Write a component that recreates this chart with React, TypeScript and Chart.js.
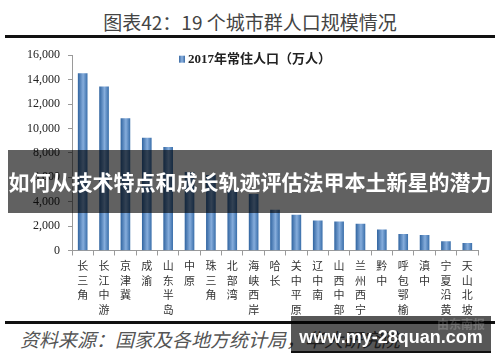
import React, { useEffect, useRef } from 'react';
import { Chart, registerables } from 'chart.js';

Chart.register(...registerables);

const titleText = '图表42：19 个城市群人口规模情况';
const bannerText = '如何从技术特点和成长轨迹评估法甲本土新星的潜力';
const sourceText = '资料来源：国家及各地方统计局，华大研究院';
const watermarkText = 'www.my-28quan.com';
const logoText = '由东南报';
const seriesLabel = '2017年常住人口（万人）';

const categories = [
  '长三角', '长江中游', '京津冀', '成渝', '山东半岛', '中原', '珠三角', '北部湾', '海峡西岸', '哈长',
  '关中平原', '辽中南', '山西中部', '兰州西宁', '黔中', '呼包鄂榆', '滇中', '宁夏沿黄', '天山北坡',
];
const population = [
  14500, 13400, 10800, 9200, 8450, 6400, 6150, 4900, 4600, 3300,
  2900, 2420, 2340, 2160, 1700, 1320, 1240, 730, 590,
];
const yMin = 0;
const yMax = 16000;
const yStep = 2000;

const CJK = '"Noto Sans CJK SC", sans-serif';
const SERIF = '"Liberation Serif", "Noto Sans CJK SC", serif';

const legendPlugin = {
  id: 'customLegend',
  afterDraw(chart: any) {
    const { ctx, chartArea } = chart;
    const ds = chart.data.datasets[0];
    const x = chartArea.left + 107;
    const y = chartArea.top + 4;
    ctx.save();
    const g = ctx.createLinearGradient(x, 0, x + 6, 0);
    g.addColorStop(0, '#3a6aa3');
    g.addColorStop(0.5, '#8db3e2');
    g.addColorStop(1, '#3a6aa3');
    ctx.fillStyle = g;
    ctx.fillRect(x, y - 3.5, 6, 7);
    ctx.font = 'bold 13px ' + SERIF;
    ctx.fillStyle = '#222';
    ctx.textBaseline = 'middle';
    ctx.textAlign = 'left';
    ctx.fillText(ds.label, x + 9, y + 0.5);
    ctx.restore();
  },
};

function BarChart() {
  const ref = useRef<HTMLCanvasElement | null>(null);
  useEffect(() => {
    if (!ref.current) return;
    const chart = new Chart(ref.current, {
      type: 'bar',
      data: {
        labels: categories.map((c) => c.split('')),
        datasets: [
          {
            label: seriesLabel,
            data: population,
            barThickness: 9,
            borderWidth: 0,
            backgroundColor: (ctx: any) => {
              const ch = ctx.chart;
              if (ctx.type !== 'data' || !ch.chartArea || !ch.scales.x) return '#4f81bd';
              const x = ch.scales.x.getPixelForValue(ctx.dataIndex);
              const g = ch.ctx.createLinearGradient(x - 4.5, 0, x + 4.5, 0);
              g.addColorStop(0, '#3568a3');
              g.addColorStop(0.55, '#86addc');
              g.addColorStop(1, '#3e72ad');
              return g;
            },
          },
        ],
      },
      options: {
        animation: false,
        responsive: false,
        devicePixelRatio: 1,
        layout: { padding: { left: 19, right: 22, top: 9, bottom: 0 } },
        plugins: {
          legend: { display: false },
          tooltip: { enabled: false },
          title: { display: false },
        },
        scales: {
          x: {
            offset: true,
            grid: {
              display: true,
              drawOnChartArea: false,
              drawTicks: true,
              tickLength: 5,
              color: '#9a9a9a',
              offset: true,
            },
            border: { display: true, color: '#9a9a9a', width: 1 },
            ticks: {
              autoSkip: false,
              maxRotation: 0,
              minRotation: 0,
              padding: 3,
              color: '#333',
              font: { size: 11, family: CJK, lineHeight: 1.33 },
            },
          },
          y: {
            min: yMin,
            max: yMax,
            grid: {
              display: true,
              drawOnChartArea: false,
              drawTicks: true,
              tickLength: 4,
              color: '#9a9a9a',
            },
            border: { display: true, color: '#9a9a9a', width: 1 },
            ticks: {
              stepSize: yStep,
              padding: 8,
              color: '#222',
              font: { size: 12, family: SERIF },
              callback: (v: any) => Number(v).toLocaleString('en-US'),
            },
          },
        },
      },
      plugins: [legendPlugin],
    } as any);
    return () => chart.destroy();
  }, []);
  return <canvas ref={ref} width={500} height={280} style={{ display: 'block', width: 500, height: 280 }} />;
}

export default function App() {
  return (
    <div style={{ position: 'absolute', left: 0, top: 0, width: 500, height: 362, background: '#fff', overflow: 'hidden' }}>
      <div
        style={{
          position: 'absolute', left: 0, top: 8, width: 500, height: 28, textAlign: 'center',
          fontFamily: CJK, fontSize: 19, lineHeight: '28px', color: '#444', whiteSpace: 'nowrap',
        }}
      >
        {titleText}
      </div>
      <div style={{ position: 'absolute', left: 5, top: 35, width: 490, height: 3, background: '#111' }} />
      <div style={{ position: 'absolute', left: 0, top: 40, width: 500, height: 280 }}>
        <BarChart />
      </div>
      <div
        style={{
          position: 'absolute', left: 8, top: 150, width: 484, height: 63, background: 'rgba(0,0,0,0.62)',
          color: '#fff', fontFamily: CJK, fontWeight: 'bold', fontSize: 21, lineHeight: '63px',
          textAlign: 'center', whiteSpace: 'nowrap',
        }}
      >
        {bannerText}
      </div>
      <div style={{ position: 'absolute', left: 5, top: 321, width: 490, height: 3, background: '#111' }} />
      <div
        style={{
          position: 'absolute', left: 20, top: 326, height: 26, fontFamily: CJK, fontSize: 19,
          fontStyle: 'italic', lineHeight: '26px', color: '#555', whiteSpace: 'nowrap',
        }}
      >
        {sourceText}
      </div>
      <div
        style={{
          position: 'absolute', left: 291, top: 316, width: 200, height: 35, background: 'rgba(0,0,0,0.66)',
          borderBottom: '2px solid #111',
        }}
      >
        <div
          style={{
            position: 'absolute', right: 6, top: 1, fontFamily: CJK, fontSize: 12, fontWeight: 'bold',
            color: 'rgba(255,255,255,0.18)', lineHeight: '14px', whiteSpace: 'nowrap',
          }}
        >
          {logoText}
        </div>
        <div
          style={{
            position: 'absolute', left: 0, top: 6, width: 200, textAlign: 'center', fontFamily: '"Liberation Sans", Arial, sans-serif',
            fontWeight: 'bold', fontSize: 18, lineHeight: '30px', color: '#fff', whiteSpace: 'nowrap',
          }}
        >
          {watermarkText}
        </div>
      </div>
    </div>
  );
}
